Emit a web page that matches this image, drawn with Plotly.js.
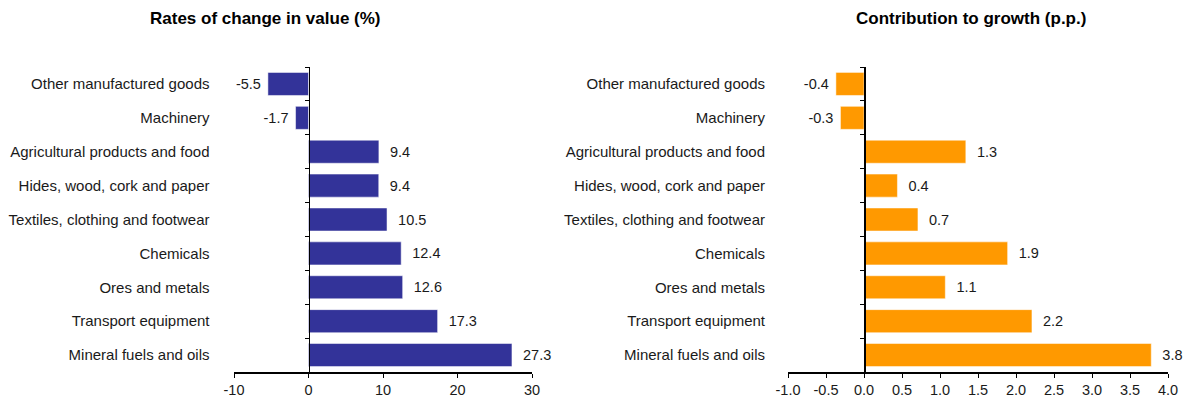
<!DOCTYPE html>
<html>
<head>
<meta charset="utf-8">
<script src="https://cdn.plot.ly/plotly-3.0.1.min.js"></script>
<style>html,body{margin:0;padding:0;background:#fff;}#chart{width:1192px;height:402px;}</style>
</head>
<body>
<div id="chart"></div>
<script>
const categories = [
  "Other manufactured goods",
  "Machinery",
  "Agricultural products and food",
  "Hides, wood, cork and paper",
  "Textiles, clothing and footwear",
  "Chemicals",
  "Ores and metals",
  "Transport equipment",
  "Mineral fuels and oils"
];
const ratesOfChange = [-5.45, -1.74, 9.45, 9.43, 10.54, 12.44, 12.64, 17.33, 27.31];
const contribution = [-0.37, -0.31, 1.34, 0.44, 0.71, 1.89, 1.07, 2.21, 3.78];
const leftTickVals = [-10, 0, 10, 20, 30];
const rightTickVals = [-1.0, -0.5, 0.0, 0.5, 1.0, 1.5, 2.0, 2.5, 3.0, 3.5, 4.0];

function labels(vals) {
  return vals.map(v => v >= 0 ? "  " + v.toFixed(1) : v.toFixed(1) + " ");
}

const W = 1192;
const fontFam = "Liberation Sans, Arial, sans-serif";
const tickFont = {family: fontFam, size: 14.5, color: "#1a1a1a"};
const catFont = {family: fontFam, size: 15, color: "#1a1a1a"};

const traces = [
  {
    type: "bar", orientation: "h",
    x: ratesOfChange, y: categories,
    xaxis: "x", yaxis: "y",
    marker: {color: "#333399", line: {color: "rgba(255,255,255,0.5)", width: 1}},
    width: 0.68,
    text: labels(ratesOfChange), textposition: "outside",
    textfont: tickFont, cliponaxis: false, hoverinfo: "skip"
  },
  {
    type: "bar", orientation: "h",
    x: contribution, y: categories,
    xaxis: "x2", yaxis: "y2",
    marker: {color: "#FF9900", line: {color: "rgba(255,255,255,0.5)", width: 1}},
    width: 0.68,
    text: labels(contribution), textposition: "outside",
    textfont: tickFont, cliponaxis: false, hoverinfo: "skip"
  }
];

function xAx(domain, range, tv, anchor, fmt) {
  return {
    domain: domain, range: range, anchor: anchor,
    tickvals: tv, ticktext: tv.map(v => fmt(v)),
    showgrid: false, zeroline: false,
    showline: true, linecolor: "#000", linewidth: 1.5,
    ticks: "outside", ticklen: 4, tickcolor: "#000", tickwidth: 1,
    tickfont: tickFont, fixedrange: true
  };
}
function yAx(pos) {
  return {
    type: "category", categoryorder: "array", categoryarray: categories,
    autorange: "reversed", domain: [0, 1],
    anchor: "free", position: pos,
    showline: true, linecolor: "#000", linewidth: 1.5,
    ticks: "outside", ticklen: 4, tickcolor: "#000", tickson: "boundaries",
    showgrid: false, zeroline: false,
    tickfont: catFont, ticklabelstandoff: 96, fixedrange: true
  };
}

const lx0 = 234, lx1 = 532, rx0 = 788, rx1 = 1168;
const left0 = lx0 + (lx1 - lx0) * (10 / 40);
const right0 = rx0 + (rx1 - rx0) * (1 / 5);

const layout = {
  width: 1192, height: 402,
  margin: {l: 0, r: 0, t: 67, b: 30},
  paper_bgcolor: "#fff", plot_bgcolor: "rgba(0,0,0,0)",
  showlegend: false,
  xaxis: xAx([lx0 / W, lx1 / W], [-10, 30], leftTickVals, "y", v => String(v)),
  xaxis2: xAx([rx0 / W, rx1 / W], [-1, 4], rightTickVals, "y2", v => v.toFixed(1)),
  yaxis: yAx(left0 / W),
  yaxis2: yAx(right0 / W),
  annotations: [
    {text: "<b>Rates of change in value (%)</b>", xref: "paper", yref: "paper",
     x: 265 / W, y: 1, yshift: 49, xanchor: "center", yanchor: "middle", showarrow: false,
     font: {family: fontFam, size: 17, color: "#000"}},
    {text: "<b>Contribution to growth (p.p.)</b>", xref: "paper", yref: "paper",
     x: 971 / W, y: 1, yshift: 49, xanchor: "center", yanchor: "middle", showarrow: false,
     font: {family: fontFam, size: 17, color: "#000"}}
  ]
};

Plotly.newPlot("chart", traces, layout, {displayModeBar: false, staticPlot: true});
</script>
</body>
</html>
